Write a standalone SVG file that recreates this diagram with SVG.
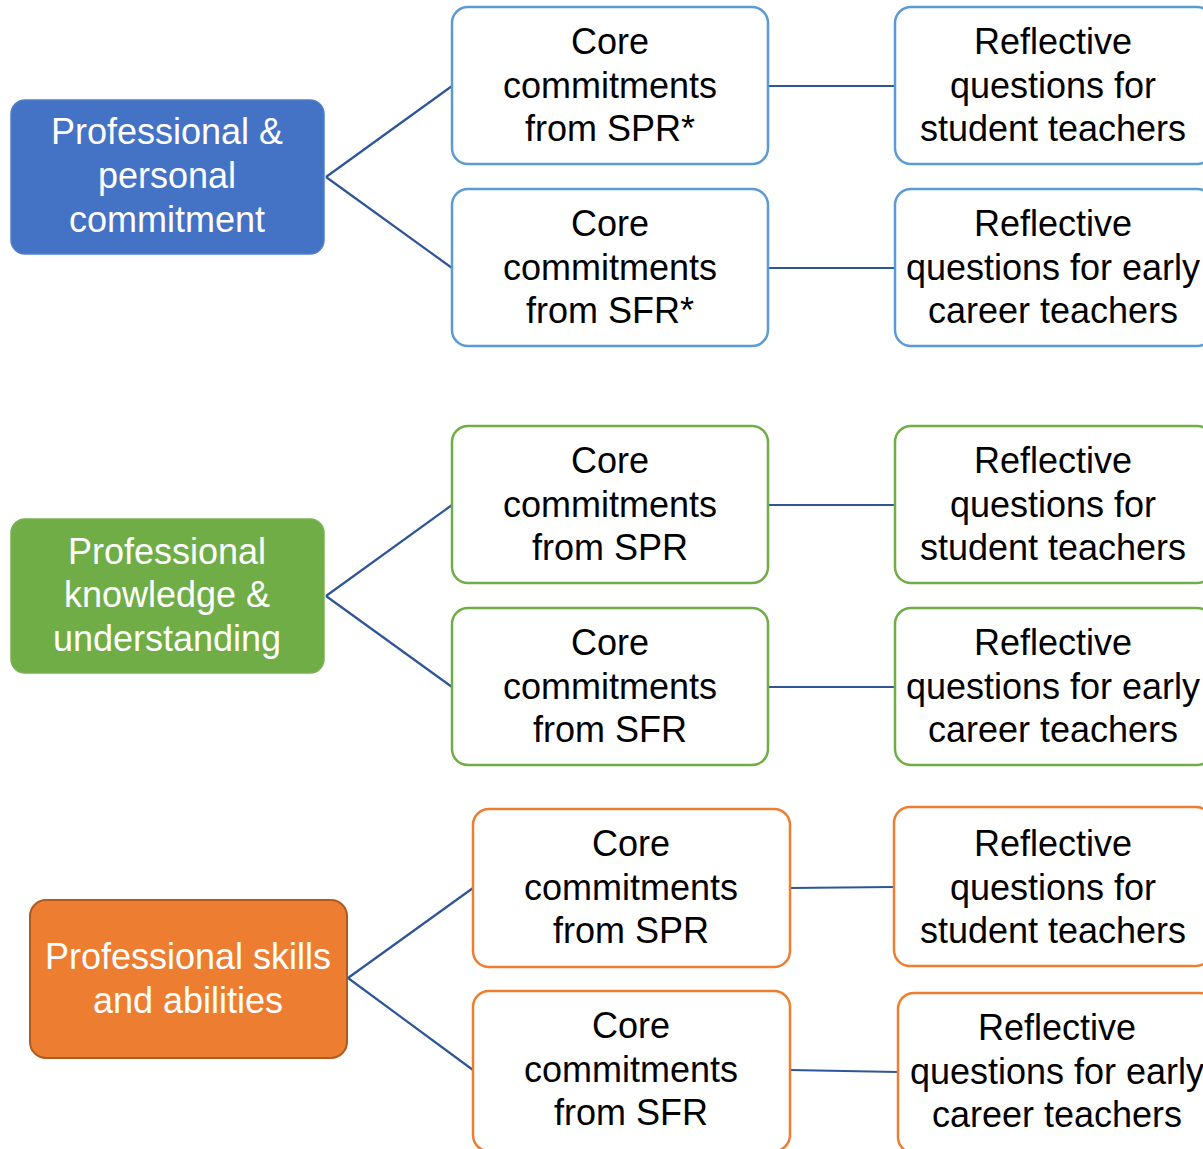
<svg xmlns="http://www.w3.org/2000/svg" width="1203" height="1149" viewBox="0 0 1203 1149">
<style>
text{font-family:"Liberation Sans",Arial,sans-serif;font-size:36px;text-anchor:middle}
.main text{fill:#fff}
.box text{fill:#000}
.b rect{fill:#fff;stroke:#5B9BD5;stroke-width:2.5}
.g rect{fill:#fff;stroke:#70AD47;stroke-width:2.5}
.o rect{fill:#fff;stroke:#ED7D31;stroke-width:2.5}
#conn line{stroke:#2F5597;stroke-width:2.2;fill:none}
</style>
<rect width="1203" height="1149" fill="#fff"/>
<g id="conn">
<line x1="326" y1="177" x2="452" y2="86"/>
<line x1="326" y1="177" x2="452" y2="268"/>
<line x1="768" y1="86" x2="895" y2="86"/>
<line x1="768" y1="268" x2="895" y2="268"/>
<line x1="326" y1="596" x2="452" y2="505"/>
<line x1="326" y1="596" x2="452" y2="687"/>
<line x1="768" y1="505" x2="895" y2="505"/>
<line x1="768" y1="687" x2="895" y2="687"/>
<line x1="348" y1="978" x2="473" y2="888"/>
<line x1="348" y1="978" x2="473" y2="1070"/>
<line x1="790" y1="888" x2="894" y2="887"/>
<line x1="790" y1="1070" x2="898" y2="1072"/>
</g>
<g id="main1" class="main">
<rect x="11" y="100" width="313" height="154" rx="14" fill="#4472C4" stroke="#4F7FCB" stroke-width="1.5"/>
<text x="167" y="144">Professional &amp;</text>
<text x="167" y="188">personal</text>
<text x="167" y="232">commitment</text>
</g>
<g id="core1a" class="box b">
<rect x="452" y="7" width="316" height="157" rx="16"/>
<text x="610" y="54">Core</text><text x="610" y="98">commitments</text><text x="610" y="141">from SPR*</text>
</g>
<g id="core1b" class="box b">
<rect x="452" y="189" width="316" height="157" rx="16"/>
<text x="610" y="236">Core</text><text x="610" y="280">commitments</text><text x="610" y="323">from SFR*</text>
</g>
<g id="refl1a" class="box b">
<rect x="895" y="7" width="318" height="157" rx="16"/>
<text x="1053" y="54">Reflective</text><text x="1053" y="98">questions for</text><text x="1053" y="141">student teachers</text>
</g>
<g id="refl1b" class="box b">
<rect x="895" y="189" width="318" height="157" rx="16"/>
<text x="1053" y="236">Reflective</text><text x="1053" y="280">questions for early</text><text x="1053" y="323">career teachers</text>
</g>
<g id="main2" class="main">
<rect x="11" y="519" width="313" height="154" rx="14" fill="#70AD47" stroke="#78B152" stroke-width="1.5"/>
<text x="167" y="564">Professional</text>
<text x="167" y="607">knowledge &amp;</text>
<text x="167" y="651">understanding</text>
</g>
<g id="core2a" class="box g">
<rect x="452" y="426" width="316" height="157" rx="16"/>
<text x="610" y="473">Core</text><text x="610" y="517">commitments</text><text x="610" y="560">from SPR</text>
</g>
<g id="core2b" class="box g">
<rect x="452" y="608" width="316" height="157" rx="16"/>
<text x="610" y="655">Core</text><text x="610" y="699">commitments</text><text x="610" y="742">from SFR</text>
</g>
<g id="refl2a" class="box g">
<rect x="895" y="426" width="318" height="157" rx="16"/>
<text x="1053" y="473">Reflective</text><text x="1053" y="517">questions for</text><text x="1053" y="560">student teachers</text>
</g>
<g id="refl2b" class="box g">
<rect x="895" y="608" width="318" height="157" rx="16"/>
<text x="1053" y="655">Reflective</text><text x="1053" y="699">questions for early</text><text x="1053" y="742">career teachers</text>
</g>
<g id="main3" class="main">
<rect x="30" y="900" width="317" height="158" rx="16" fill="#ED7D31" stroke="#AE5A21" stroke-width="2"/>
<text x="188" y="969">Professional skills</text>
<text x="188" y="1013">and abilities</text>
</g>
<g id="core3a" class="box o">
<rect x="473" y="809" width="317" height="158" rx="16"/>
<text x="631" y="856">Core</text><text x="631" y="900">commitments</text><text x="631" y="943">from SPR</text>
</g>
<g id="core3b" class="box o">
<rect x="473" y="991" width="317" height="160" rx="16"/>
<text x="631" y="1038">Core</text><text x="631" y="1082">commitments</text><text x="631" y="1125">from SFR</text>
</g>
<g id="refl3a" class="box o">
<rect x="894" y="807" width="318" height="159" rx="16"/>
<text x="1053" y="856">Reflective</text><text x="1053" y="900">questions for</text><text x="1053" y="943">student teachers</text>
</g>
<g id="refl3b" class="box o">
<rect x="898" y="993" width="318" height="160" rx="16"/>
<text x="1057" y="1040">Reflective</text><text x="1057" y="1084">questions for early</text><text x="1057" y="1127">career teachers</text>
</g>
</svg>
